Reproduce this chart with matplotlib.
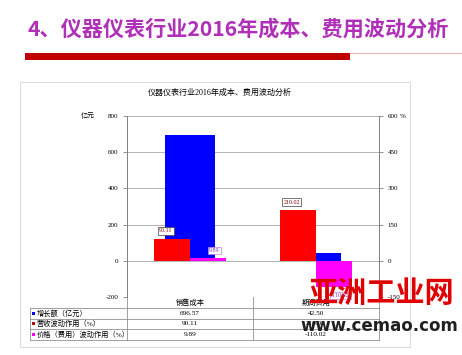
import numpy as np
import matplotlib.pyplot as plt
from matplotlib.patches import Rectangle

plt.rcParams['font.family'] = ['Liberation Serif', 'Noto Sans CJK SC']

categories = ['销售成本', '期间费用']
growth = [696.57, 42.50]          # 增长额（亿元） - left axis
volume_effect = [90.11, 210.02]   # 营收波动作用（%） - right axis
price_effect = [9.89, -110.02]    # 价格（费用）波动作用（%） - right axis
row_labels = ['增长额（亿元）', '营收波动作用（%）', '价格（费用）波动作用（%）']
left_ticks = [-200, 0, 200, 400, 600, 800]
right_ticks = [-150, 0, 150, 300, 450, 600]

c_blue = '#0000FF'
c_red = '#FF0000'
c_mag = '#FF00FF'
grey = '#B4B4B4'

W, H = 462, 355
fig = plt.figure(figsize=(W / 100, H / 100), dpi=100)

# background layer in pixel coordinates
deco = fig.add_axes([0, 0, 1, 1])
deco.set_xlim(0, W)
deco.set_ylim(H, 0)
deco.axis('off')

deco.text(28, 29, '4、仪器仪表行业2016年成本、费用波动分析', fontsize=15.2,
          color='#B02FB8', va='center', ha='left', fontweight='bold',
          family=['Noto Sans CJK SC'])
deco.add_patch(Rectangle((25, 52.5), 325, 7.5, color='#C00000', lw=0))
deco.plot([350, 462], [53, 53], color='#F0B8B8', lw=0.8)

# chart frame
deco.add_patch(Rectangle((20, 82), 390, 265, fill=False, ec='#DCDCDC', lw=0.8))
deco.text(220, 93, '仪器仪表行业2016年成本、费用波动分析', fontsize=5.8,
          ha='center', va='center')
deco.text(88, 116, '亿元', fontsize=5, ha='center', va='center')
deco.text(403, 117, '%', fontsize=5, ha='center', va='center')

# data table under the plot
x_cols = [127, 253, 379]
y_rows = [308, 318.5, 329, 340]
for y in y_rows:
    deco.plot([30, 379], [y, y], color='#909090', lw=0.6)
deco.plot([30, 30], [308, 340], color='#909090', lw=0.6)
for x in x_cols:
    deco.plot([x, x], [297, 340], color='#909090', lw=0.6)
for i, cat in enumerate(categories):
    xc = (x_cols[i] + x_cols[i + 1]) / 2
    deco.text(xc, 302.5, cat, fontsize=5.2, ha='center', va='center')
    for r, vals in enumerate([growth, volume_effect, price_effect]):
        deco.text(xc, (y_rows[r] + y_rows[r + 1]) / 2, f'{vals[i]:.2f}',
                  fontsize=5.2, ha='center', va='center')
for r, (lab, col) in enumerate(zip(row_labels, [c_blue, '#C00000', c_mag])):
    yc = (y_rows[r] + y_rows[r + 1]) / 2
    deco.add_patch(Rectangle((32, yc - 1.7), 3.4, 3.4, color=col, lw=0))
    deco.text(37, yc, lab, fontsize=5.2, ha='left', va='center')

# main plot
ax = fig.add_axes([127 / W, 1 - 297 / H, 252 / W, 181 / H])
ax2 = ax.twinx()
x = np.arange(len(categories))

ax.bar(x, growth, width=0.4, color=c_blue, zorder=2)
ax.set_ylim(-200, 800)
ax.set_yticks(left_ticks)
ax.yaxis.grid(True, color=grey, lw=0.7, zorder=0)
ax.set_axisbelow(True)
ax.set_xlim(-0.5, 1.5)
ax.set_xticks([])

off, bw = 0.143, 0.286
ax2.bar(x - off, volume_effect, width=bw, color=c_red, zorder=3)
ax2.bar(x + off, price_effect, width=bw, color=c_mag, zorder=3)
ax2.set_ylim(-150, 600)
ax2.set_yticks(right_ticks)

for a in (ax, ax2):
    for s in a.spines.values():
        s.set_visible(False)
    a.tick_params(axis='y', labelsize=5, length=3, width=0.6, color='#808080', pad=3)
ax.spines['left'].set_visible(True)
ax.spines['left'].set_color('#808080')
ax.spines['left'].set_linewidth(0.7)
ax2.spines['right'].set_visible(True)
ax2.spines['right'].set_color('#808080')
ax2.spines['right'].set_linewidth(0.7)
ax.set_yticklabels([str(t) for t in left_ticks])
ax2.set_yticklabels([str(t) for t in right_ticks])

# value labels on the right-axis bars
box = dict(boxstyle='square,pad=0.2', fc='white', ec='#404040', lw=0.5)
for i in range(len(categories)):
    ax2.annotate(f'{volume_effect[i]:.2f}', (x[i] - off - 0.05, volume_effect[i]),
                 xytext=(0, 4), textcoords='offset points', ha='center', va='bottom',
                 fontsize=4.3, color='#800000', bbox=box, zorder=5)
    pv = price_effect[i]
    ax2.annotate(f'{pv:.2f}', (x[i] + off + 0.05, pv),
                 xytext=(0, 4 if pv > 0 else -4), textcoords='offset points',
                 ha='center', va='bottom' if pv > 0 else 'top',
                 fontsize=4.3, color='#9030C0',
                 bbox=dict(boxstyle='square,pad=0.2', fc='white', ec='#C080E0', lw=0.5),
                 zorder=5)

# site watermark
fig.text(381 / W, 1 - 293 / H, '亚洲工业网', fontsize=21, fontweight='bold',
         color='#E00000', ha='center', va='center', family=['Noto Sans CJK SC'],
         zorder=10)
fig.text(379 / W, 1 - 326 / H, 'www.cemao.com', fontsize=12, fontweight='bold',
         color='#202020', ha='center', va='center', family=['DejaVu Sans'], zorder=10)

fig.savefig('out.png', dpi=100)
